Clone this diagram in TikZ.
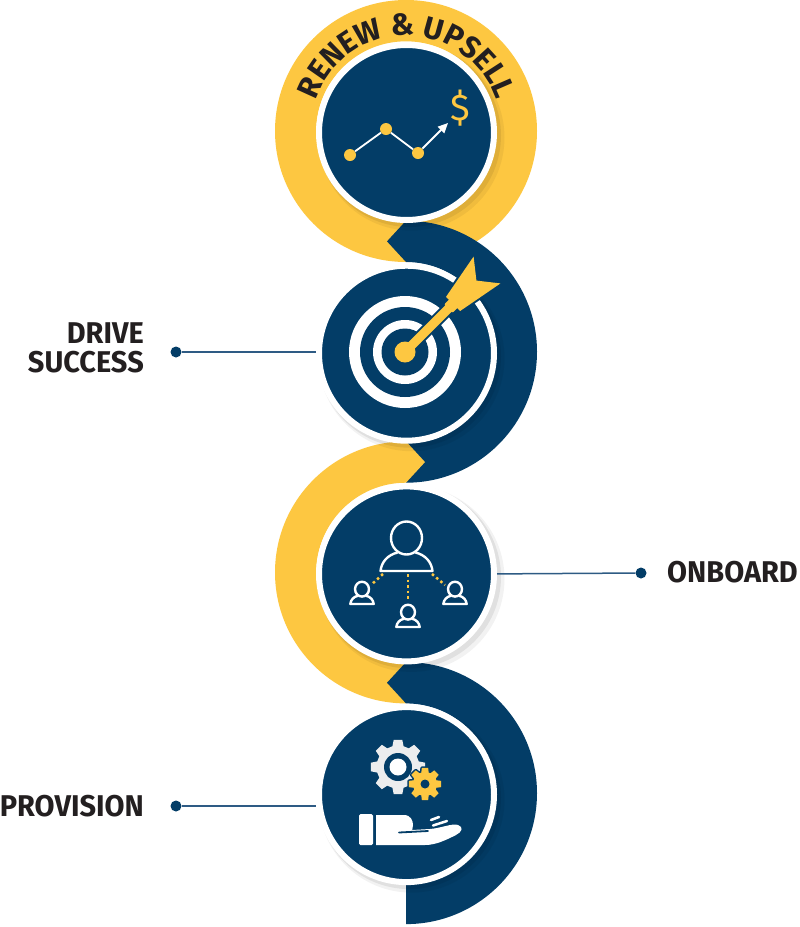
\documentclass[tikz,border=0pt]{standalone}
\usepackage{fontspec}
\setmainfont{Fira Sans}
\newfontfamily\labfont{Fira Sans}[FakeStretch=0.965]
\usetikzlibrary{decorations.text, arrows.meta, calc}
\definecolor{navy}{HTML}{033D67}
\definecolor{yel}{HTML}{FDC741}
\definecolor{txt}{HTML}{231F20}
\definecolor{lnk}{HTML}{2E5B84}
\definecolor{gearc}{HTML}{ECEDEE}
\tikzset{
  disc/.style={circle, fill=navy, draw=white, line width=6pt, minimum size=175pt, inner sep=0pt},
  lab/.style={font=\labfont\bfseries\fontsize{30}{29}\selectfont, text=txt, inner sep=0pt},
  dotn/.style={circle, fill=navy, minimum size=11pt, inner sep=0pt},
  link/.style={draw=lnk, line width=1.5pt},
  cdot/.style={circle, fill=yel, minimum size=12pt, inner sep=0pt},
  iconline/.style={draw=white, line width=2.4pt, line join=round},
  dotted link/.style={draw=yel, line width=2.5pt, dash pattern=on 2.5pt off 3pt},
  shade1/.style={fill=black, opacity=.05},
  shade2/.style={fill=black, opacity=.07},
  person/.pic={
    \draw[iconline] (0,33) ellipse[x radius=15.5, y radius=16.5];
    \draw[iconline] (-9,18.5) .. controls (-19,16) and (-25,9) .. (-26,0) -- (26,0) .. controls (25,9) and (19,16) .. (9,18.5);
  }
}
\begin{document}
\begin{tikzpicture}[x=1pt,y=1pt]
\useasboundingbox (0,0) rectangle (800,-927);
\fill[white] (0,0) rectangle (800,-927);

% ---- S-shaped band ----
\fill[yel, even odd rule] (406,-131) circle[radius=131] (406,-131) circle[radius=89.7];
\fill[navy] (406,-220.7) -- (387,-241.35) -- (406,-262)
  arc[start angle=90, end angle=-90, radius=89.7] -- (406,-482.7)
  arc[start angle=-90, end angle=90, radius=131] -- cycle;
\fill[yel] (406,-441.4) -- (425,-462.05) -- (406,-482.7)
  arc[start angle=90, end angle=270, radius=89.7] -- (406,-703.4)
  arc[start angle=270, end angle=90, radius=131] -- cycle;
\fill[navy] (406,-662.1) -- (387,-682.75) -- (406,-703.4)
  arc[start angle=90, end angle=-90, radius=89.7] -- (406,-924.1)
  arc[start angle=-90, end angle=90, radius=131] -- cycle;

% ---- discs with soft shadows ----
\foreach \cy in {132.5, 353.2, 573.9, 794.6}{
  \fill[shade1] (411.5,-\cy-5) circle[radius=93];
  \fill[shade2] (409.5,-\cy-3) circle[radius=91.5];
}
\node[disc] (c1) at (406.5,-132.5) {};
\node[disc] (c2) at (406.5,-353.2) {};
\node[disc] (c3) at (406.5,-573.9) {};
\node[disc] (c4) at (406.5,-794.6) {};

% ---- curved title ----
\path[decorate, decoration={text along path, text color=txt, text align=center,
  text={|\bfseries\fontsize{30.5}{30.5}\selectfont|RENEW {\&} UPSELL}}]
  (310.5,-131) arc[start angle=180, end angle=0, radius=95.5];

% ---- labels and connectors ----
\node[dotn] (d2) at (176,-352) {};
\draw[link] (d2) -- (d2 -| c2.west);
\node[lab, anchor=east, align=right] (t2) at (144,-348) {DRIVE\\SUCCESS};

\node[dotn] (d3) at (641,-573) {};
\draw[link] (c3.east) -- (d3);
\node[lab, anchor=west] (t3) at (667,-572) {ONBOARD};

\node[dotn] (d4) at (176,-806) {};
\draw[link] (d4) -- (d4 -| c4.west);
\node[lab, anchor=east] (t4) at (144,-806) {PROVISION};

% ---- icon 1: chart ----
\node[cdot] (p1) at (350,-155) {};
\node[cdot] (p2) at (386,-129) {};
\node[cdot] (p3) at (418,-153) {};
\coordinate (p4) at (448,-123);
\draw[white, line width=1.8pt] (p1) -- (p2) -- (p3);
\draw[white, line width=1.8pt, -{Triangle[length=10pt, width=9pt]}] (p3) -- (p4);
\node[text=yel, font=\fontsize{37}{37}\selectfont, inner sep=0pt] (dol) at (460,-108) {\$};

% ---- icon 2: target ----
\fill[white] (405,-352) circle[radius=56];
\fill[navy] (405,-352) circle[radius=45];
\fill[white] (405,-352) circle[radius=32];
\fill[navy] (405,-352) circle[radius=23.5];
\begin{scope}[shift={(405,-352)}, rotate=45]
  \draw[navy, line width=4pt, line join=round]
    (0,-4.5) rectangle (72,4.5)
    (0,0) circle[radius=10.5]
    (68,-10) -- (116,-19) -- (101,0) -- (116,19) -- (68,10) -- cycle;
  \fill[navy, rounded corners=2pt] (60,-7.5) rectangle (70,7.5);
  \fill[yel] (0,-4.5) rectangle (72,4.5);
  \fill[yel] (0,0) circle[radius=10.5];
  \fill[yel, rounded corners=2pt] (61,-6) rectangle (69,6);
  \fill[yel] (68,-10) -- (116,-19) -- (101,0) -- (116,19) -- (68,10) -- cycle;
\end{scope}

% ---- icon 3: people ----
\pic (pb) at (406.5,-571) {person};
\pic[scale=0.45] (pl) at (362,-604) {person};
\pic[scale=0.45] (pm) at (408,-627) {person};
\pic[scale=0.45] (pr) at (455,-604) {person};
\coordinate (la) at (383,-574); \coordinate (lb) at (371,-585);
\coordinate (ma) at (408,-574); \coordinate (mb) at (408,-601);
\coordinate (ra) at (432,-574); \coordinate (rb) at (445,-585);
\draw[dotted link] (la) -- (lb);
\draw[dotted link] (ma) -- (mb);
\draw[dotted link] (ra) -- (rb);

% ---- icon 4: gears and hand ----
\begin{scope}[shift={(398,-767)}]
  \fill[gearc] (-15:21.5) \foreach \a in {0,45,...,315}{ -- (\a-15:21.5) -- (\a-9:27.5) -- (\a+9:27.5) -- (\a+15:21.5)} -- cycle;
  \fill[navy] (0,0) circle[radius=14];
  \fill[white] (0,0) circle[radius=8.5];
\end{scope}
\begin{scope}[shift={(425,-784)}]
  \draw[navy, line width=3pt, line join=round] (-18:12) \foreach \a in {0,45,...,315}{ -- (\a-18:12) -- (\a-11:16.5) -- (\a+11:16.5) -- (\a+18:12)} -- cycle;
  \fill[yel] (-18:12) \foreach \a in {0,45,...,315}{ -- (\a-18:12) -- (\a-11:16.5) -- (\a+11:16.5) -- (\a+18:12)} -- cycle;
  \fill[navy] (0,0) circle[radius=4.5];
\end{scope}
\fill[white, rounded corners=1.5pt] (359,-814) rectangle (373,-845);
\fill[white] (376,-815) -- (404,-815) .. controls (411,-815) and (413,-821) .. (413,-825)
  .. controls (413,-828) and (412,-829) .. (412,-830) -- (430,-829)
  .. controls (442,-828) and (452,-823) .. (458,-825)
  .. controls (464,-827) and (462,-832) .. (456,-835)
  .. controls (446,-840) and (436,-845) .. (425,-845) -- (376,-845) -- cycle;
\draw[navy, line width=1.8pt, line cap=round] (399,-832.5) -- (428,-831);
\draw[white, line width=2.5pt, line cap=round] (431,-820) -- (439,-817);
\draw[white, line width=2.5pt, line cap=round] (433,-825.5) -- (447,-821);
\end{tikzpicture}
\end{document}
